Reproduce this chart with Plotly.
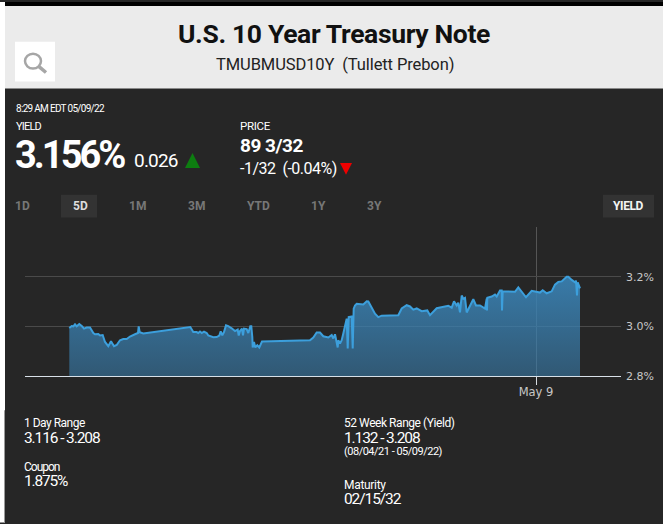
import plotly.graph_objects as go

W, H = 663, 524
L, R, T, B = 25, 621, 226.5, 376.5

offsets = [-466.7,-464.3,-462.7,-461,-459.3,-456.7,-454,-452,-449.3,-446,-442.7,-441,-437.7,-436,-433.3,-431,-427.7,-425,-422,-419.3,-416,-412.7,-409.3,-406,-401,-398,-397.3,-396.3,-392.7,-345.7,-342.7,-339.3,-337.7,-336,-334.3,-332,-329.3,-327.7,-322.7,-319.3,-316.7,-315.3,-313.7,-312,-310,-307.7,-304.3,-301,-298.3,-297.3,-296,-294,-293,-292,-289.3,-287.7,-285.7,-284.7,-283.7,-283.3,-282,-280.7,-278.7,-276.7,-274,-226,-222.7,-219.3,-216,-212.7,-207.7,-204.3,-202.7,-201,-198.3,-197.7,-196,-194.3,-192.7,-191,-189.3,-188.3,-187.3,-184.3,-183.3,-182.3,-181,-179.3,-172.7,-169.3,-167.7,-161,-157.7,-154.3,-137.7,-134.3,-129.3,-126,-122.7,-119.3,-114.3,-108.7,-106,-99.3,-92.7,-87.7,-84.3,-82,-79.3,-77.7,-76,-74.3,-72.7,-71,-69.3,-64.3,-62.7,-60,-56,-51,-49.3,-49,-48.7,-44.3,-41,-39.3,-36,-34.3,-34,-33.3,-21,-17.7,-14.3,-10,-4.3,0.7,4,6.7,10.7,15.7,19,22.3,25.7,30.7,32.3,35.7,39,40,41,41.7,44]
yields = [2.993,3.001,3.000,3.008,3.000,3.009,3.000,2.991,2.995,2.995,2.973,2.968,2.969,2.963,2.965,2.937,2.920,2.940,2.920,2.925,2.944,2.949,2.949,2.959,2.968,2.973,3.000,2.976,2.971,2.997,2.977,2.977,2.973,2.979,2.973,2.979,2.973,2.963,2.956,2.957,2.963,2.980,2.964,2.977,3.004,3.001,2.992,2.981,2.987,2.963,2.981,2.991,2.964,2.991,2.989,2.973,3.000,3.000,2.957,2.915,2.937,2.915,2.924,2.915,2.939,2.944,2.955,2.975,2.975,2.960,2.955,2.965,2.951,2.968,2.915,2.944,2.931,2.944,2.971,3.004,3.031,2.911,3.037,3.040,2.911,3.071,3.084,3.091,3.088,3.101,3.100,3.051,3.037,3.043,3.045,3.072,3.085,3.080,3.067,3.072,3.061,3.064,3.045,3.073,3.077,3.083,3.075,3.101,3.084,3.095,3.056,3.124,3.111,3.115,3.056,3.097,3.109,3.084,3.084,3.071,3.111,3.064,3.115,3.120,3.128,3.120,3.144,3.144,3.064,3.141,3.139,3.157,3.137,3.117,3.143,3.139,3.136,3.145,3.133,3.141,3.168,3.179,3.181,3.200,3.200,3.187,3.177,3.184,3.124,3.177,3.153]
y_ticks = [2.8, 3.0, 3.2, 3.4]
y_labels = ["2.8%", "3.0%", "3.2%", ""]
x_ticks = [0]
x_labels = ["May 9"]
range_tabs = ["1D", "5D", "1M", "3M", "YTD", "1Y", "3Y"]

FONT = "Roboto, sans-serif"

def px(x): return (x - L) / (R - L)
def py(y): return (B - y) / (B - T)

shapes, annos = [], []

def rect(x0, y0, x1, y1, color, layer="below"):
    shapes.append(dict(type="rect", xref="paper", yref="paper", x0=px(x0), x1=px(x1),
                       y0=py(y1), y1=py(y0), fillcolor=color, line_width=0, layer=layer))

def text(x, y, s, size, color="#ffffff", anchor="left", bold=False, ls=0, family=FONT):
    body = f"<b>{s}</b>" if bold else s
    if ls:
        body = f'<span style="letter-spacing:{ls}px">{body}</span>'
    annos.append(dict(xref="paper", yref="paper", x=px(x), y=py(y), text=body,
                      showarrow=False, xanchor=anchor, yanchor="middle", borderpad=0, borderwidth=0,
                      font=dict(size=size, color=color, family=family)))

def tri(x0, x1, ybase, ytip, color):
    xm = (x0 + x1) / 2
    p = f"M {px(x0)} {py(ybase)} L {px(x1)} {py(ybase)} L {px(xm)} {py(ytip)} Z"
    shapes.append(dict(type="path", xref="paper", yref="paper", path=p, fillcolor=color, line_width=0))

# page regions
rect(5, 87, W, H, "#262626")
rect(0, 0, 5, H, "#ffffff")
rect(5, 4, W, 87, "#ebebeb")
rect(5, 0, W, 4, "#000000")
rect(4, 411, 5, H, "#9a9a9a")
rect(15, 40, 55, 80, "#ffffff")
shapes.append(dict(type="circle", xref="paper", yref="paper", x0=px(25), x1=px(41), y0=py(67), y1=py(52),
                   line=dict(color="#a6a6a6", width=2.5)))
shapes.append(dict(type="line", xref="paper", yref="paper", x0=px(39), x1=px(46), y0=py(65), y1=py(71),
                   line=dict(color="#a6a6a6", width=3.5)))

# header texts
text(334, 31.5, "U.S. 10 Year Treasury Note", 26.5, "#111111", "center", True, ls=-0.35)
text(334.5, 63, "TMUBMUSD10Y&nbsp;&nbsp;(Tullett Prebon)", 16.5, "#222222", "center", ls=-0.1)

# quote block
text(16, 107, "8:29 AM EDT 05/09/22", 10, ls=-0.7)
text(16, 125, "YIELD", 11, ls=-0.8)
text(15, 154, "3.156%", 38, bold=True, ls=-3)
text(134, 160, "0.026", 19, ls=-0.8)
tri(185, 200, 167, 152, "#0d7d10")
text(240, 125, "PRICE", 11.5, ls=-0.3)
text(240, 144, "89 3/32", 19, bold=True, ls=-0.5)
text(240, 168, "-1/32&nbsp;&nbsp;(-0.04%)", 16, ls=-0.5)
tri(340, 352, 162, 174, "#ee0000")

# range tabs
rect(61, 194, 97, 217, "#333333")
rect(603, 194, 654, 217, "#333333")
for lab, x, c in zip(range_tabs, [22, 80, 137, 196, 258, 318, 374],
                     ["#777777", "#dddddd"] + ["#777777"] * 5):
    text(x, 205, lab, 12, c, "center", True)
text(628, 205, "YIELD", 12, "#f4f4f4", "center", True, ls=-0.4)

# footer stats
text(24, 424, "1 Day Range", 12, ls=-0.5)
text(24, 438.5, "3.116 - 3.208", 15.5, ls=-1.1)
text(24, 468, "Coupon", 12, ls=-1)
text(24, 482.5, "1.875%", 15.5, ls=-1.2)
text(344, 424, "52 Week Range (Yield)", 12, ls=-0.45)
text(344, 438.5, "1.132 - 3.208", 15.5, ls=-1.1)
text(344, 452.5, "(08/04/21 - 05/09/22)", 11, ls=-0.5)
text(344, 486, "Maturity", 12, ls=-0.3)
text(344, 500.5, "02/15/32", 15.5, ls=-1.1)

fig = go.Figure(go.Scatter(
    x=offsets, y=yields, mode="lines", line=dict(color="#3c9fdc", width=2),
    fill="tozeroy",
    fillgradient=dict(type="vertical", start=3.2, stop=2.8,
                      colorscale=[[0, "rgba(58,130,180,0.92)"], [1, "rgba(58,130,180,0.55)"]]),
    hoverinfo="skip",
))
fig.update_layout(
    width=W, height=H, autosize=False, showlegend=False,
    margin=dict(l=L, r=W - R, t=T, b=H - B, pad=0),
    paper_bgcolor="#262626", plot_bgcolor="#262626",
    shapes=shapes, annotations=annos,
    xaxis=dict(range=[L - 536, R - 536], tickvals=x_ticks, ticktext=x_labels, ticks="outside",
               ticklen=8, tickcolor="#d8dde2", tickwidth=1, showgrid=True, gridcolor="#555555", gridwidth=1,
               zeroline=False, showline=True, linecolor="#d8e0e8", linewidth=1, layer="below traces",
               automargin=False, ticklabelstandoff=-3,
               tickfont=dict(family="DejaVu Sans, sans-serif", size=11.5, color="#c8c8c8")),
    yaxis=dict(range=[2.8, 3.4], side="right", tickvals=y_ticks, ticktext=y_labels, ticks="",
               showgrid=True, gridcolor="#4a4a4a", gridwidth=1, zeroline=False, showline=False,
               layer="below traces", ticklabelstandoff=4, automargin=False,
               tickfont=dict(family="DejaVu Sans, sans-serif", size=11, color="#c8c8c8")),
)
fig.write_html("out.html", config={"displayModeBar": False},
               post_script="document.body.style.margin='0';document.body.style.overflow='hidden';")
